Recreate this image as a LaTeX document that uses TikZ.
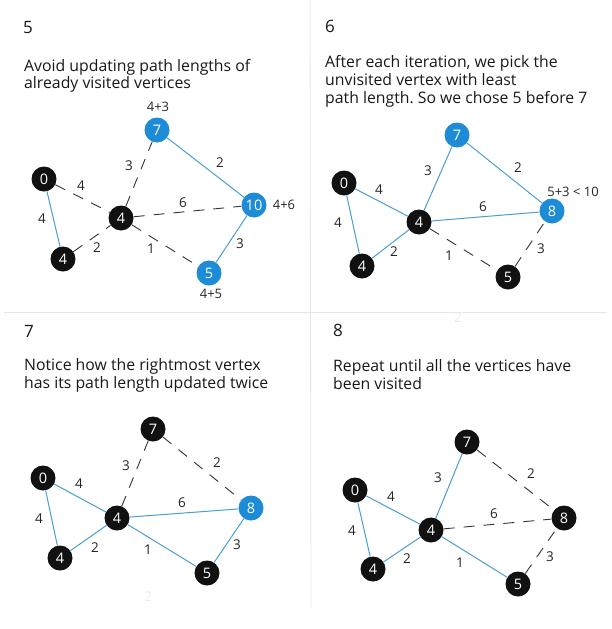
\documentclass[tikz,border=0pt]{standalone}
\usepackage{fontspec}
\setmainfont{Open Sans}
\frenchspacing
\definecolor{nodeblue}{HTML}{1E8BD6}
\definecolor{edgeblue}{HTML}{4A9ED2}
\definecolor{nodeblack}{HTML}{111111}
\definecolor{divider}{HTML}{E6E6E6}
\definecolor{ghost}{HTML}{EDEDED}
\tikzset{
  bn/.style={circle, fill=nodeblack, text=white, minimum size=25pt, inner sep=0pt, font=\fontsize{14.5}{14.5}\selectfont},
  un/.style={bn, fill=nodeblue},
  be/.style={draw=edgeblue, line width=1pt},
  de/.style={draw=black!80, line width=0.9pt, dash pattern=on 11pt off 9pt},
  el/.style={font=\fontsize{13.5}{13.5}\selectfont, text=black!85, inner sep=0pt},
  sl/.style={font=\fontsize{13}{13}\selectfont, text=black!85, inner sep=0pt},
  ttl/.style={font=\fontsize{17}{17}\selectfont, text=black!90, inner sep=0pt},
  txt/.style={font=\fontsize{15.8}{15.8}\selectfont, text=black!90, inner sep=0pt, anchor=base west},
  gh/.style={font=\fontsize{13.5}{13.5}\selectfont, text=ghost, inner sep=0pt},
}
\begin{document}
\begin{tikzpicture}[x=1pt,y=-1pt]
\useasboundingbox (0,0) rectangle (611,629);
\fill[white] (0,0) rectangle (611,629);
% dividers
\draw[divider, line width=0.8pt] (310,0) -- (311,608);
\draw[divider, line width=0.8pt] (4,312) -- (607,312);

% ---------- Panel 5 ----------
\node[ttl] (t1) at (28,28) {5};
\node[txt] (t1a) at (24,71) {Avoid updating path lengths of};
\node[txt] (t1b) at (24,88) {already visited vertices};
\node[un] (a7) at (157,130) {7};
\node[bn] (a0) at (44,179) {0};
\node[bn] (a4) at (121,218) {4};
\node[un] (a10) at (254,205) {10};
\node[bn] (a4l) at (63,259) {4};
\node[un] (a5) at (209,273) {5};
\draw[be] (a0) -- (a4l);
\draw[de] (a0) -- (a4);
\draw[de] (a4l) -- (a4);
\draw[de] (a4) -- (a7);
\draw[be] (a7) -- (a10);
\draw[de] (a4) -- (a10);
\draw[de] (a4) -- (a5);
\draw[be] (a5) -- (a10);
\node[sl] (a7s) at (158,107) {4+3};
\node[sl] (a10s) at (284,205) {4+6};
\node[sl] (a5s) at (211,294) {4+5};
\node[el] (a_e1) at (81,186) {4};
\node[el] (a_e2) at (42,219) {4};
\node[el] (a_e3) at (129,166) {3};
\node[el] (a_e4) at (220,163) {2};
\node[el] (a_e5) at (183,203) {6};
\node[el] (a_e6) at (97,248) {2};
\node[el] (a_e7) at (151,249) {1};
\node[el] (a_e8) at (240,244) {3};

% ---------- Panel 6 ----------
\node[ttl] (t2) at (330,26) {6};
\node[txt] (t2a) at (325,67) {After each iteration, we pick the};
\node[txt] (t2b) at (325,85) {unvisited vertex with least};
\node[txt] (t2c) at (325,103) {path length. So we chose 5 before 7};
\node[un] (b7) at (457,135) {7};
\node[bn] (b0) at (344,183) {0};
\node[bn] (b4) at (419,222) {4};
\node[un] (b8) at (552,211) {8};
\node[bn] (b4l) at (362,266) {4};
\node[bn] (b5) at (508,277) {5};
\draw[be] (b0) -- (b4l);
\draw[be] (b0) -- (b4);
\draw[be] (b4l) -- (b4);
\draw[be] (b4) -- (b7);
\draw[be] (b7) -- (b8);
\draw[be] (b4) -- (b8);
\draw[de] (b4) -- (b5);
\draw[de] (b5) -- (b8);
\node[sl] (b8s) at (573,192) {5+3 < 10};
\node[el] (b_e1) at (379,190) {4};
\node[el] (b_e2) at (338,223) {4};
\node[el] (b_e3) at (428,171) {3};
\node[el] (b_e4) at (518,168) {2};
\node[el] (b_e5) at (483,207) {6};
\node[el] (b_e6) at (394,252) {2};
\node[el] (b_e7) at (449,256) {1};
\node[el] (b_e8) at (541,249) {3};

% ---------- Panel 7 ----------
\node[ttl] (t3) at (29,331) {7};
\node[txt] (t3a) at (24,370) {Notice how the rightmost vertex};
\node[txt] (t3b) at (24,388) {has its path length updated twice};
\node[bn] (c7) at (153,429) {7};
\node[bn] (c0) at (43,478) {0};
\node[bn] (c4) at (117,518) {4};
\node[un] (c8) at (251,508) {8};
\node[bn] (c4l) at (60,558) {4};
\node[bn] (c5) at (207,573) {5};
\draw[be] (c0) -- (c4l);
\draw[be] (c0) -- (c4);
\draw[be] (c4l) -- (c4);
\draw[de] (c4) -- (c7);
\draw[de] (c7) -- (c8);
\draw[be] (c4) -- (c8);
\draw[be] (c4) -- (c5);
\draw[be] (c5) -- (c8);
\node[el] (c_e1) at (79,484) {4};
\node[el] (c_e2) at (39,519) {4};
\node[el] (c_e3) at (126,466) {3};
\node[el] (c_e4) at (217,463) {2};
\node[el] (c_e5) at (182,503) {6};
\node[el] (c_e6) at (95,548) {2};
\node[el] (c_e7) at (148,550) {1};
\node[el] (c_e8) at (237,545) {3};
\node[gh] (c_g) at (148,597) {2};

% ---------- Panel 8 ----------
\node[ttl] (t4) at (338,330) {8};
\node[txt] (t4a) at (333,371) {Repeat until all the vertices have};
\node[txt] (t4b) at (333,389) {been visited};
\node[bn] (d7) at (467,442) {7};
\node[bn] (d0) at (355,490) {0};
\node[bn] (d4) at (431,530) {4};
\node[bn] (d8) at (564,518) {8};
\node[bn] (d4l) at (373,569) {4};
\node[bn] (d5) at (518,584) {5};
\draw[be] (d0) -- (d4l);
\draw[be] (d0) -- (d4);
\draw[be] (d4l) -- (d4);
\draw[be] (d4) -- (d7);
\draw[de] (d7) -- (d8);
\draw[de] (d4) -- (d8);
\draw[be] (d4) -- (d5);
\draw[de] (d5) -- (d8);
\node[el] (d_e1) at (391,497) {4};
\node[el] (d_e2) at (352,531) {4};
\node[el] (d_e3) at (438,478) {3};
\node[el] (d_e4) at (531,474) {2};
\node[el] (d_e5) at (494,514) {6};
\node[el] (d_e6) at (407,559) {2};
\node[el] (d_e7) at (460,563) {1};
\node[el] (d_e8) at (550,557) {3};
\node[gh] (d_g) at (458,318) {2};
\end{tikzpicture}
\end{document}
